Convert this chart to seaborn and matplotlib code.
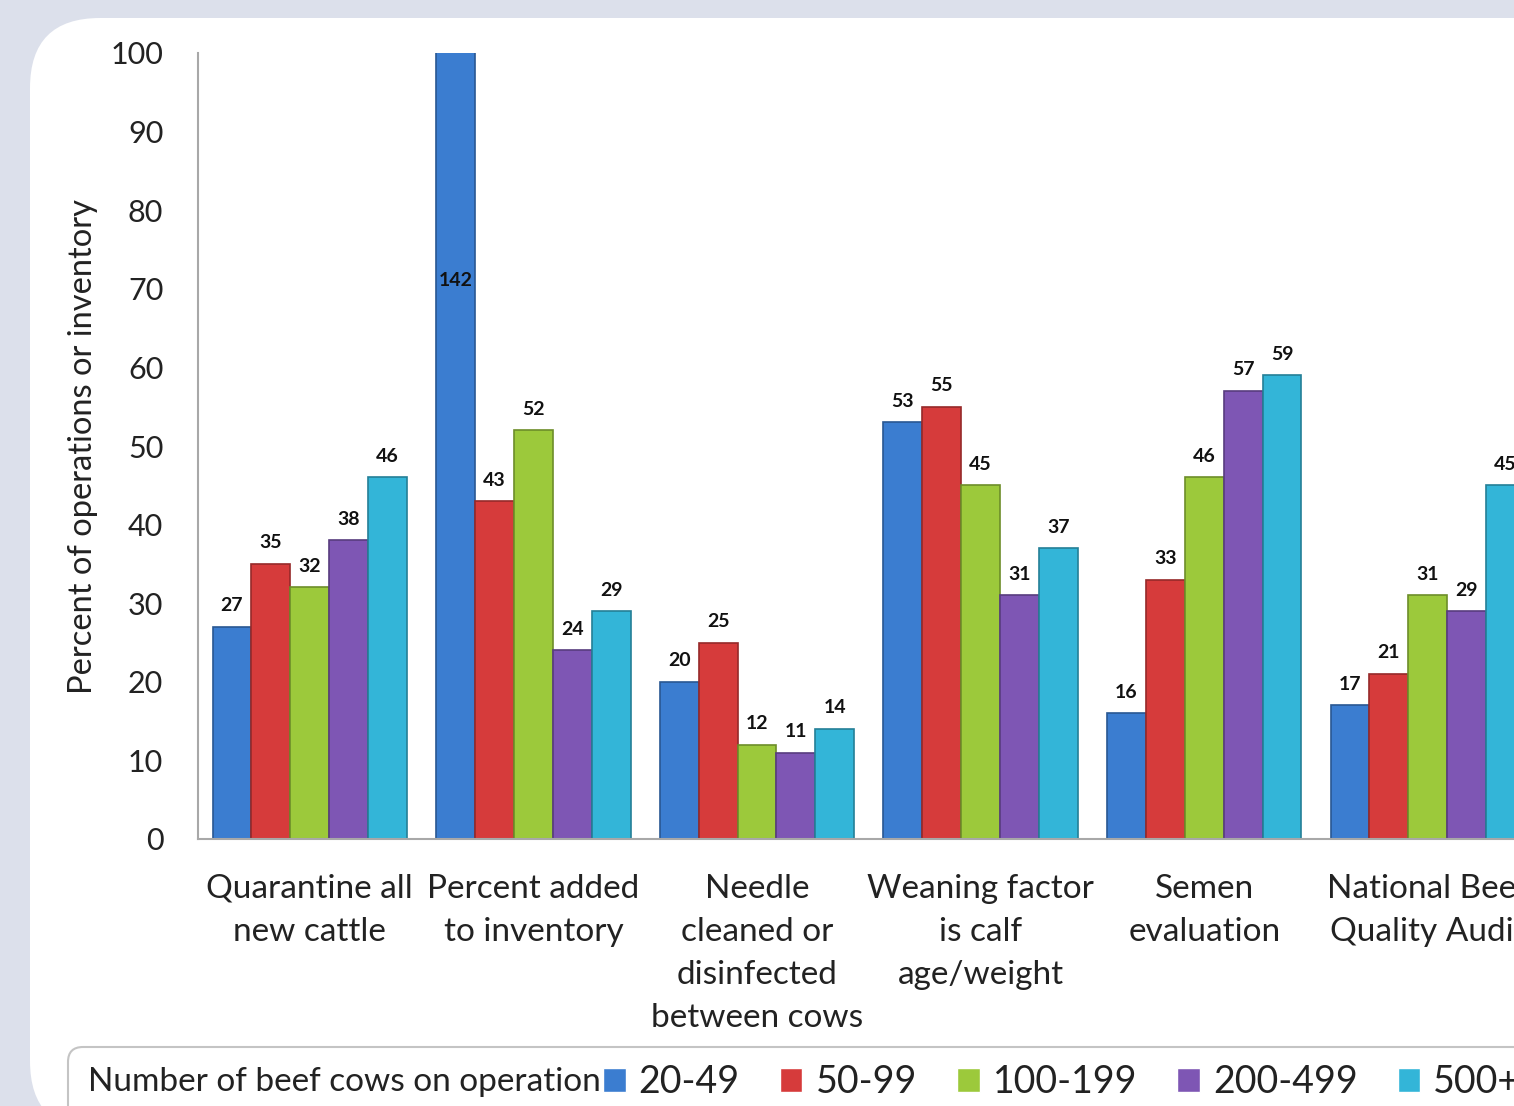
import pandas as pd
import numpy as np
import matplotlib.pyplot as plt
import seaborn as sns
from matplotlib.patches import FancyBboxPatch
import matplotlib.colors as mcolors

categories = ["Quarantine all\nnew cattle", "Percent added\nto inventory",
              "Needle\ncleaned or\ndisinfected\nbetween cows",
              "Weaning factor\nis calf\nage/weight", "Semen\nevaluation",
              "National Beef\nQuality Audit"]
herd_sizes = ["20-49", "50-99", "100-199", "200-499", "500+"]
v_20_49 = [27, 142, 20, 53, 16, 17]
v_50_99 = [35, 43, 25, 55, 33, 21]
v_100_199 = [32, 52, 12, 45, 46, 31]
v_200_499 = [38, 24, 11, 31, 57, 29]
v_500 = [46, 29, 14, 37, 59, 45]
y_ticks = list(range(0, 101, 10))

colors = ["#3b7dd0", "#d63b3b", "#9cc93b", "#7e56b4", "#33b5d8"]

rows = []
for size, vals in zip(herd_sizes, [v_20_49, v_50_99, v_100_199, v_200_499, v_500]):
    for cat, v in zip(categories, vals):
        rows.append({"category": cat, "size": size, "value": v})
df = pd.DataFrame(rows)

sns.set_style("white")
plt.rcParams['font.family'] = ['Lato', 'DejaVu Sans']

fig = plt.figure(figsize=(15.14, 11.06), dpi=100)
fig.patch.set_facecolor("#dce0eb")

# white rounded panel
panel = FancyBboxPatch((0.30, -0.25), 20, 11.13, boxstyle="round,pad=0,rounding_size=0.7",
                       transform=fig.dpi_scale_trans, facecolor="white", edgecolor="none", zorder=-2)
fig.patches.append(panel)

ax = fig.add_axes([198 / 1514, 267 / 1106, 1341.6 / 1514, 786 / 1106])
ax.set_zorder(1)
ax.set_facecolor("none")
sns.barplot(data=df, x="category", y="value", hue="size", order=categories,
            hue_order=herd_sizes, palette=colors, width=0.87, gap=0, ax=ax,
            saturation=1, errorbar=None)

ymax = 100
for cont, col in zip(ax.containers, colors):
    edge = mcolors.to_rgb(col)
    edge = tuple(c * 0.7 for c in edge)
    for bar in cont:
        bar.set_edgecolor(edge)
        bar.set_linewidth(1.2)
        h = bar.get_height()
        if h > ymax:
            # bar runs off the axis: value written in the middle of the full bar
            ax.text(bar.get_x() + bar.get_width() / 2, h / 2, f"{int(h)}", ha="center",
                    va="center", fontsize=14, fontweight="bold", color="#111111")
    labels_edge = [f"{int(b.get_height())}" if b.get_height() <= ymax else "" for b in cont]
    ax.bar_label(cont, labels=labels_edge, padding=9, fontsize=14, fontweight="bold", color="#111111")

ax.set_xlim(-0.5, 5.5)
ax.set_ylim(0, ymax)
ax.set_yticks(y_ticks)
ax.tick_params(axis="y", length=0, pad=25, labelsize=22, labelcolor="#222222")
ax.tick_params(axis="x", length=0, pad=25, labelsize=24, labelcolor="#222222")
for lab in ax.get_xticklabels():
    lab.set_linespacing(1.55)
ax.set_xlabel("")
ax.set_ylabel("Percent of operations or inventory", fontsize=23.5, color="#222222", va="center")
ax.yaxis.set_label_coords(-0.0857, 0.5)
for s in ["top", "right"]:
    ax.spines[s].set_visible(False)
for s in ["left", "bottom"]:
    ax.spines[s].set_color("#a8a8a8")
    ax.spines[s].set_linewidth(1.5)

# legend
handles, labels = ax.get_legend_handles_labels()
ax.get_legend().remove()
lbox = FancyBboxPatch((0.68, -0.3), 20, 0.89, boxstyle="round,pad=0,rounding_size=0.15",
                      transform=fig.dpi_scale_trans, facecolor="white", edgecolor="#c4c4c4",
                      linewidth=1.5, zorder=-1)
fig.patches.append(lbox)
fig.text(88 / 1514, 24 / 1106, "Number of beef cows on operation", fontsize=24,
         color="#222222", va="center", ha="left")
fig.legend(handles, labels, loc="center left", bbox_to_anchor=(603 / 1514, 24 / 1106),
           ncol=5, frameon=False, fontsize=27, handlelength=0.6, handleheight=0.6,
           handletextpad=0.35, columnspacing=1.07, borderpad=0, borderaxespad=0,
           labelcolor="#222222")

fig.savefig("out.png", dpi=100, facecolor=fig.get_facecolor())
plt.close()
